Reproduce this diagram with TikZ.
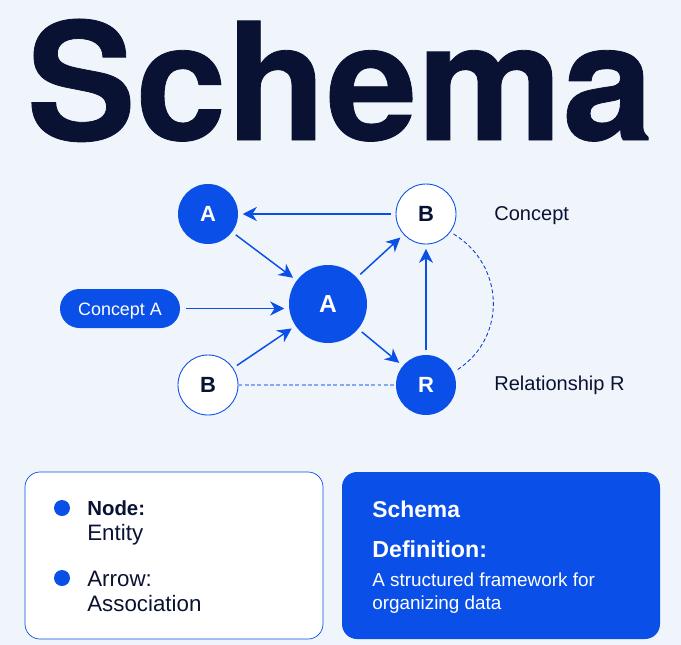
\documentclass[tikz,border=0pt]{standalone}
\usepackage{fontspec}
\setmainfont{Liberation Sans}
\newfontfamily\titlefont[FakeBold=0.5]{TeX Gyre Heros Bold}
\usetikzlibrary{arrows.meta,positioning,calc}
\definecolor{schemablue}{RGB}{10,80,232}
\definecolor{darknavy}{RGB}{10,18,51}
\definecolor{pagebg}{RGB}{240,245,252}
\tikzset{
    filled/.style={circle, fill=schemablue, text=white, font=\bfseries\fontsize{12.5}{14}\selectfont, inner sep=0pt},
    hollow/.style={circle, draw=schemablue, line width=0.5pt, fill=white, text=darknavy, font=\bfseries\fontsize{12.5}{14}\selectfont, inner sep=0pt},
    link/.style={-{Stealth[length=8pt,width=8pt,inset=2.5pt]}, line width=0.85pt, schemablue, shorten >=2.5pt, shorten <=2.5pt},
    dashlink/.style={dashed, dash pattern=on 2.2pt off 1.4pt},
    sidelabel/.style={anchor=west, text=darknavy, font=\fontsize{11.4}{14}\selectfont, inner sep=0pt},
    panelblack/.style={anchor=west, text=darknavy, font=\fontsize{12.7}{14}\selectfont, inner sep=0pt},
    panelwhite/.style={anchor=west, text=white, inner sep=0pt},
    bullet/.style={circle, fill=schemablue, minimum size=0.32cm, inner sep=0pt}
}
\begin{document}
\begin{tikzpicture}
    % Page
    \fill[pagebg] (0,0) rectangle (13.62,-12.9);
    \useasboundingbox (0,0) rectangle (13.62,-12.9);

    % Title
    \node[anchor=base, text=darknavy, font=\titlefont\fontsize{93}{100}\selectfont, inner sep=0pt] (title) at (6.8,-2.8) {Schema};

    % Graph nodes
    \node[filled, minimum size=1.2cm] (atop) at (4.16,-4.28) {A};
    \node[hollow, minimum size=1.2cm] (btop) at (8.52,-4.28) {B};
    \node[filled, minimum size=1.56cm, font=\bfseries\fontsize{14}{16}\selectfont] (acenter) at (6.56,-6.08) {A};
    \node[hollow, minimum size=1.2cm] (bbottom) at (4.16,-7.7) {B};
    \node[filled, minimum size=1.2cm] (rbottom) at (8.52,-7.7) {R};
    \node[fill=schemablue, text=white, rounded corners=0.39cm, minimum width=2.4cm, minimum height=0.78cm, inner sep=0pt, text height=0.26cm, text depth=0pt, font=\fontsize{10.2}{12}\selectfont] (concepta) at (2.4,-6.17) {Concept A};

    % Side labels
    \node[sidelabel] (conceptlabel) at (9.88,-4.32) {Concept};
    \node[sidelabel] (relationlabel) at (9.88,-7.7) {Relationship R};

    % Arrows
    \draw[link] (btop) -- (atop);
    \draw[link] (atop) -- (acenter);
    \draw[link] (concepta.east) ++(0.03,0) coordinate (conceptstart) -- (acenter.west |- conceptstart);
    \draw[link] (bbottom) -- (acenter);
    \draw[link] (acenter) -- (btop);
    \draw[link] (acenter) -- (rbottom);
    \draw[link] (rbottom) -- (btop);

    % Dashed links
    \coordinate (arcstart) at ($(btop)+(-36:0.68)$);
    \coordinate (arcend) at ($(rbottom)+(26:0.7)$);
    \draw[dashlink, line width=0.7pt, schemablue!50] (bbottom) -- (rbottom);
    \draw[dashlink, line width=0.5pt, schemablue!85!black] (arcstart) to[out=-31, in=33, looseness=1.12] (arcend);

    % Left panel
    \node[draw=schemablue, line width=0.4pt, fill=white, rounded corners=0.3cm, minimum width=5.96cm, minimum height=3.34cm, inner sep=0pt] (leftpanel) at (3.48,-11.11) {};
    \node[bullet] (nodedot) at (1.24,-10.16) {};
    \node[panelblack, font=\bfseries\fontsize{11.6}{14}\selectfont] (nodehead) at (1.74,-10.16) {Node:};
    \node[panelblack] (nodetext) at (1.74,-10.7) {Entity};
    \node[bullet] (arrowdot) at (1.24,-11.56) {};
    \node[panelblack] (arrowhead) at (1.74,-11.58) {Arrow:};
    \node[panelblack] (arrowtext) at (1.74,-12.08) {Association};

    % Right panel
    \node[fill=schemablue, rounded corners=0.3cm, minimum width=6.36cm, minimum height=3.34cm, inner sep=0pt] (rightpanel) at (10.02,-11.11) {};
    \node[panelwhite, font=\bfseries\fontsize{13}{14}\selectfont] (defhead) at (7.44,-10.18) {Schema};
    \node[panelwhite, font=\bfseries\fontsize{13.2}{14}\selectfont] (deflabel) at (7.44,-10.98) {Definition:};
    \node[panelwhite, font=\fontsize{10.75}{12}\selectfont] (defline) at (7.44,-11.6) {A structured framework for};
    \node[panelwhite, font=\fontsize{10.75}{12}\selectfont] (defnext) at (7.44,-12.1) {organizing data};
\end{tikzpicture}
\end{document}
